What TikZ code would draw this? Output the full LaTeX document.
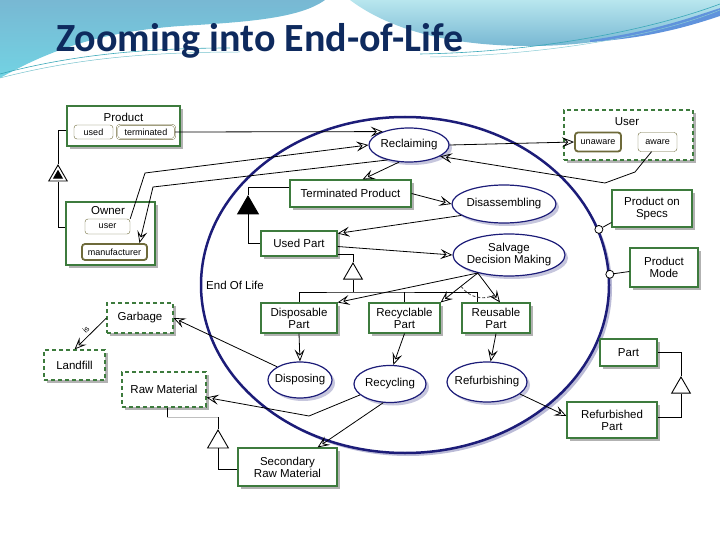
\documentclass[tikz,border=0pt]{standalone}
\usepackage{fontspec}
\setmainfont{Liberation Sans}
\newfontfamily\titlefont{Carlito}
\usetikzlibrary{shapes.geometric,arrows.meta,shadows}

\definecolor{objgreen}{HTML}{3D7B3D}
\definecolor{procnavy}{HTML}{1C1C78}
\definecolor{stateolive}{HTML}{6E6A3A}
\definecolor{titlenavy}{HTML}{0E2A5E}
\definecolor{hdrblue}{HTML}{78B8D3}
\definecolor{hdrturq}{HTML}{72D3E3}
\definecolor{hdrcyan}{HTML}{B8E6EE}
\definecolor{hdrteal}{HTML}{3AA8B8}

\begin{document}
\begin{tikzpicture}[x=1pt, y=-1pt,
  obj/.style={draw=objgreen, line width=1.1pt, fill=white, rectangle, inner sep=0pt,
    align=center, font=\fontsize{11.5}{12}\selectfont,
    drop shadow={shadow xshift=3pt, shadow yshift=-3pt, opacity=1, fill=black!30}},
  envobj/.style={obj, dash pattern=on 4pt off 3pt},
  proc/.style={ellipse, draw=procnavy, line width=1.2pt, fill=white, inner sep=-8pt,
    align=center, font=\fontsize{11.5}{12}\selectfont,
    drop shadow={shadow xshift=3pt, shadow yshift=-3pt, opacity=1, fill=procnavy!25}},
  state/.style={draw=stateolive, rounded corners=3pt, fill=white, inner sep=0pt,
    font=\fontsize{9}{9}\selectfont},
  tag/.style={font=\fontsize{11.5}{12}\selectfont, inner sep=1pt},
  link/.style={line width=0.8pt, -{Stealth[open, length=12pt, width=10pt, inset=5pt]}},
  xorarc/.style={line width=0.9pt, black!70, dash pattern=on 3pt off 2pt},
  gentri/.style={regular polygon, regular polygon sides=3, draw, line width=0.9pt,
    fill=white, inner sep=0pt},
  dot/.style={circle, draw, line width=0.8pt, fill=white, minimum size=8pt, inner sep=0pt}]

  \useasboundingbox (0,0) rectangle (720,540);

  \shade[top color=hdrblue, bottom color=hdrturq] (0,0) -- (325,0)
    .. controls (300,18) and (250,22) .. (180,26)
    .. controls (100,32) and (50,50) .. (0,78) -- cycle;
  \shade[top color=hdrcyan, bottom color=hdrblue] (350,0) -- (720,0) -- (720,8)
    .. controls (660,32) and (600,46) .. (530,46)
    .. controls (450,46) and (390,30) .. (350,0) -- cycle;
  \fill[hdrblue!80!blue] (590,40) .. controls (650,32) and (690,18) .. (720,8) -- (720,16)
    .. controls (690,26) and (650,38) .. (590,42) -- cycle;
  \draw[hdrteal, line width=0.6pt] (0,74) .. controls (60,58) and (130,48) .. (230,48);
  \draw[hdrteal!70, line width=0.5pt] (0,78) .. controls (70,60) and (140,52) .. (240,52);
  \draw[hdrteal, line width=0.6pt] (420,54) .. controls (540,52) and (650,30) .. (720,4);
  \draw[hdrteal!60, line width=0.5pt] (430,57) .. controls (550,55) and (660,35) .. (720,10);

  \node[anchor=base west, inner sep=0pt, text=titlenavy,
    font=\titlefont\bfseries\fontsize{40}{40}\selectfont] (title) at (56,52) {Zooming into End-of-Life};

  \node[ellipse, draw=procnavy, line width=2.5pt, fill=white, minimum width=408pt, minimum height=336pt,
    drop shadow={shadow xshift=3pt, shadow yshift=-3pt, opacity=1, fill=procnavy!30}] (eol) at (405,285) {};
  \node[tag, anchor=west] (eollbl) at (205,285) {End Of Life};

  \node[obj, minimum width=113pt, minimum height=40pt] (product) at (123.5,126) {};
  \node[tag] (productlbl) at (123.5,117) {Product};
  \node[state, minimum width=39pt, minimum height=14pt] (used) at (93.5,132) {used};
  \node[state, double=white, double distance=1pt, minimum width=58pt, minimum height=14pt] (terminated) at (146,132) {terminated};

  \node[obj, minimum width=89pt, minimum height=63pt] (owner) at (110.5,233.5) {};
  \node[tag] (ownerlbl) at (108,211) {Owner};
  \node[state, minimum width=45pt, minimum height=15pt] (user) at (107.5,226.5) {user};
  \node[state, line width=1.8pt, minimum width=65pt, minimum height=16pt] (manufacturer) at (114.5,252) {manufacturer};

  \node[envobj, minimum width=129pt, minimum height=50pt] (userenv) at (628.5,135) {};
  \node[tag] (userlbl) at (627,122) {User};
  \node[state, line width=1.8pt, minimum width=46pt, minimum height=19pt] (unaware) at (598,142) {unaware};
  \node[state, minimum width=39pt, minimum height=19pt] (aware) at (657.5,142) {aware};

  \node[obj, minimum width=80pt, minimum height=37pt] (specs) at (652,208.5) {Product on\\Specs};
  \node[obj, minimum width=68pt, minimum height=39pt] (mode) at (664,267.5) {Product\\Mode};
  \node[obj, minimum width=121pt, minimum height=27pt] (tprod) at (350.5,193.5) {Terminated Product};
  \node[obj, minimum width=76pt, minimum height=25pt] (upart) at (299,243.5) {Used Part};
  \node[obj, minimum width=76pt, minimum height=30pt] (dpart) at (299,318) {Disposable\\Part};
  \node[obj, minimum width=71pt, minimum height=30pt] (rpart) at (404.5,318) {Recyclable\\Part};
  \node[obj, minimum width=68pt, minimum height=30pt] (uspart) at (496,318) {Reusable\\Part};
  \node[envobj, minimum width=66pt, minimum height=30pt] (garbage) at (140,318) {Garbage};
  \node[envobj, minimum width=61pt, minimum height=30pt] (landfill) at (74.5,365) {Landfill};
  \node[envobj, minimum width=84pt, minimum height=35pt] (rawmat) at (164,389.5) {Raw Material};
  \node[obj, minimum width=99pt, minimum height=38pt] (secraw) at (287.5,467) {Secondary\\Raw Material};
  \node[obj, minimum width=57pt, minimum height=27pt] (part) at (628.5,352.5) {Part};
  \node[obj, minimum width=90pt, minimum height=36pt] (rfpart) at (612,420) {Refurbished\\Part};

  \node[proc, minimum width=80pt, minimum height=34pt] (reclaim) at (409,145) {Reclaiming};
  \node[proc, minimum width=104pt, minimum height=38pt] (disasm) at (504,204) {Disassembling};
  \node[proc, minimum width=112pt, minimum height=42pt] (salvage) at (509,255) {Salvage\\Decision Making};
  \node[proc, minimum width=64pt, minimum height=36pt] (dispose) at (300,380) {Disposing};
  \node[proc, minimum width=72pt, minimum height=37pt] (recycle) at (390,384) {Recycling};
  \node[proc, minimum width=80pt, minimum height=40pt] (refurb) at (487,382) {Refurbishing};

  \node[gentri, minimum size=21.4pt] (exhtri) at (58,175.7) {};
  \node[gentri, fill=black, minimum size=10pt] (exhmark) at (58,175.7) {};
  \node[gentri, fill=black, minimum size=24pt] (aggtri) at (248,208) {};
  \node[gentri, minimum size=21.4pt] (spectri) at (353,273.7) {};
  \node[gentri, minimum size=24pt] (rawtri) at (218,442) {};
  \node[gentri, minimum size=21.4pt] (parttri) at (681,387.7) {};

  \node[dot] (specsdot) at (eol.16) {};
  \node[dot] (modedot) at (eol.3) {};

  \draw[line width=0.8pt] ([yshift=-4pt]product.west) -| (exhtri.north);
  \draw[line width=0.8pt] (exhtri.south) |- ([yshift=6pt]owner.west);
  \draw[line width=0.8pt] ([yshift=6pt]tprod.west) -| (aggtri.north);
  \draw[line width=0.8pt] (aggtri.south) |- (upart.west);
  \coordinate (partbar) at (353,292);
  \draw[line width=0.8pt] ([yshift=-11pt]upart.east) -| (spectri.north);
  \draw[line width=0.8pt] (spectri.south) -- (partbar);
  \draw[line width=0.8pt] (dpart.north) |- (partbar) -| ([xshift=-19pt]uspart.north);
  \draw[line width=0.8pt] (rpart.north) -- (rpart.north |- partbar);
  \coordinate (rawbar) at (218,417);
  \draw[line width=0.8pt] ([xshift=3pt]rawmat.south) -- ([xshift=3pt]rawmat.south |- rawbar);
  \draw[line width=0.8pt, black!25] ([xshift=3pt]rawmat.south |- rawbar) -- (rawbar);
  \draw[line width=0.8pt] (rawbar) -- (rawtri.north);
  \draw[line width=0.8pt] (rawtri.south) |- ([yshift=-2pt]secraw.west);
  \draw[line width=0.8pt] (part.east) -| (parttri.north);
  \draw[line width=0.8pt] (parttri.south) |- ([yshift=3pt]rfpart.east);
  \draw[line width=0.8pt] (specsdot) -- ([yshift=-14pt]specs.west);
  \draw[line width=0.8pt] (modedot) -- ([yshift=-4pt]mode.west);

  \draw[link] (terminated.east) -- (reclaim.153);
  \draw[link] (user.north east) -- (145,173) -- (reclaim.west);
  \draw[link] (reclaim.215) -- (153,187) -- ([xshift=25pt]manufacturer.north);
  \draw[link] (reclaim.240) -- ([xshift=12pt]tprod.north);
  \draw[link] (reclaim.east) -- (unaware.west);
  \draw[link] ([xshift=-6pt]aware.south) -- (635,172) -- (605,183) -- (reclaim.340);
  \draw[link] (tprod.east) -- (disasm.west);
  \draw[link] (disasm.195) -- ([yshift=-3pt]upart.north east);
  \draw[link] ([yshift=-3pt]upart.east) -- (salvage.west);
  \coordinate (salvfoot) at (salvage.210);
  \draw[link] (salvfoot) -- (dpart.north east);
  \draw[link] (salvfoot) -- coordinate[pos=.45] (xora) (rpart.north east);
  \draw[link] (salvfoot) -- coordinate[pos=.75] (xorb) ([xshift=4pt]uspart.north);
  \draw[xorarc] (xora) to[bend right=40] (xorb);
  \draw[link] (dpart.south) -- (dispose.north);
  \draw[link] (rpart.south) -- (recycle.80);
  \draw[link] (uspart.south) -- (refurb.80);
  \draw[link] (dispose.150) -- (garbage.east);
  \draw[link] (recycle.200) -- (309,416) -- ([yshift=-8pt]rawmat.east);
  \draw[link] (recycle.250) -- ([xshift=30pt]secraw.north);
  \draw[link] (refurb.340) -- ([yshift=4pt]rfpart.west);
  \draw[link] (garbage.west) -- node[pos=.5, anchor=south, rotate=45, inner sep=3pt,
    font=\fontsize{8}{8}\selectfont] (istag) {is} (landfill.north);
\end{tikzpicture}
\end{document}
